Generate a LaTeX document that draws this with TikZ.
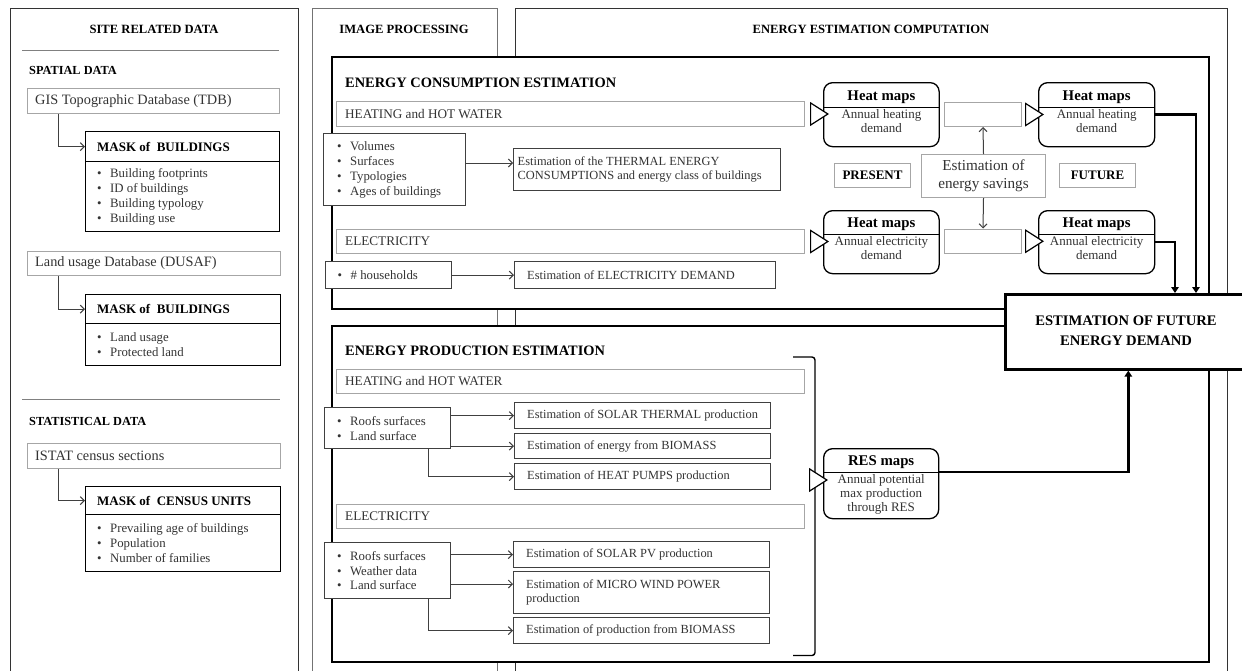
\documentclass[tikz,border=0pt]{standalone}
\usepackage{fontspec}
\setmainfont{Liberation Serif}
\usetikzlibrary{arrows.meta}
\newcommand\mkbox[6][]{%
 \pgfmathsetmacro\mkW{#5-#3}\pgfmathsetmacro\mkH{#6-#4}%
 \node[#1, anchor=north west, minimum width=\mkW pt, minimum height=\mkH pt, inner sep=0pt] (#2) at (#3,#4) {};}
\newcommand\mktext[4]{\node[#2, anchor=west, inner sep=0pt] (#1T) at ([xshift=#3pt]#1.west) {#4};}
\newcommand\mybul{\textbullet\hspace{8.5pt}}
\tikzset{
 panel/.style={draw=black!80, line width=1.1pt, fill=white},
 ipanel/.style={draw=black!55, line width=1.3pt, fill=white},
 ptitle/.style={font=\bfseries\fontsize{12.6}{15}\selectfont, inner sep=0pt},
 sect/.style={font=\bfseries\fontsize{12.3}{15}\selectfont, anchor=west, inner sep=0pt},
 graybox/.style={draw=black!35, line width=1pt, fill=white},
 maskbox/.style={draw=black, line width=1.3pt, fill=white},
 inbox/.style={draw=black!75, line width=1.2pt, fill=white},
 bigbox/.style={draw=black, line width=2pt, fill=white},
 hmbox/.style={draw=black, line width=1.3pt, rounded corners=9pt, fill=white},
 futbox/.style={draw=black, line width=2.6pt, fill=white},
 tgray/.style={align=left, text=black!80, font=\fontsize{14.3}{17}\selectfont},
 tbar/.style={align=left, text=black!80, font=\fontsize{13.2}{16}\selectfont},
 tmaskh/.style={align=left, font=\bfseries\fontsize{13}{16}\selectfont},
 tlist/.style={align=left, text=black!80, font=\fontsize{12.8}{14.9}\selectfont},
 test/.style={align=left, text=black!80, font=\fontsize{12.4}{14.6}\selectfont},
 btitle/.style={font=\bfseries\fontsize{14.4}{17}\selectfont, anchor=west, inner sep=0pt},
 hmt/.style={font=\bfseries\fontsize{14.8}{17}\selectfont, inner sep=0pt},
 hmb/.style={font=\fontsize{13}{14.2}\selectfont, align=center, inner sep=0pt, text=black!80},
 hmdiv/.style={draw=black, line width=1pt},
 tlab/.style={font=\bfseries\fontsize{13}{16}\selectfont, inner sep=0pt},
 tsav/.style={font=\fontsize{15.2}{17.7}\selectfont, align=center, inner sep=0pt, text=black!80},
 tfut/.style={font=\bfseries\fontsize{14.6}{20}\selectfont, align=center, inner sep=0pt},
 thinarr/.style={draw=black!75, line width=1pt, -{Straight Barb[length=4pt,width=8pt]}},
 thickarr/.style={draw=black, line width=2.5pt, -{Triangle[length=6pt,width=7.5pt]}},
 opentri/.style={draw=black, line width=1.2pt, -{Triangle[fill=white,length=19pt,width=24pt]}},
 sepline/.style={draw=black!50, line width=1pt},
 brack/.style={draw=black, line width=1.4pt, rounded corners=3pt},
}
\begin{document}
\begin{tikzpicture}[x=1pt,y=-1pt]
\useasboundingbox (0,0) rectangle (1242,670);
\clip (0,0) rectangle (1242,670);
% ---------- panels
\mkbox[panel]{site}{10}{8}{298}{700}
\mkbox[ipanel]{imgp}{312}{8}{497}{700}
\mkbox[panel]{energy}{515}{8}{1227}{700}
\node[ptitle] (siteT) at (154,29) {SITE RELATED DATA};
\node[ptitle] (imgpT) at (404,29) {IMAGE PROCESSING};
\node[ptitle] (energyT) at (871,29) {ENERGY ESTIMATION COMPUTATION};
% ---------- site related data
\draw[sepline] (22,50) -- (279,50);
\node[sect] (spatT) at (29,70) {SPATIAL DATA};
\mkbox[graybox]{gis}{27}{88}{279}{113}
\mktext{gis}{tgray}{8}{GIS Topographic Database (TDB)}
\mkbox[maskbox]{maskAh}{85}{131}{279}{161}
\mktext{maskAh}{tmaskh}{12}{MASK of\ \ BUILDINGS}
\mkbox[maskbox]{maskAb}{85}{161}{279}{231}
\mktext{maskAb}{tlist}{12}{\mybul Building footprints\\\mybul ID of buildings\\\mybul Building typology\\\mybul Building use}
\draw[thinarr] (gis.south -| 58,0) |- (maskAh.west);

\mkbox[graybox]{land}{27}{251}{280}{275}
\mktext{land}{tgray}{8}{Land usage Database (DUSAF)}
\mkbox[maskbox]{maskBh}{85}{294}{280}{323}
\mktext{maskBh}{tmaskh}{12}{MASK of\ \ BUILDINGS}
\mkbox[maskbox]{maskBb}{85}{323}{280}{365}
\mktext{maskBb}{tlist}{12}{\mybul Land usage\\\mybul Protected land}
\draw[thinarr] (land.south -| 58,0) |- (maskBh.west);

\draw[sepline] (22,399) -- (280,399);
\node[sect] (statT) at (29,421) {STATISTICAL DATA};
\mkbox[graybox]{istat}{27}{443}{280}{468}
\mktext{istat}{tgray}{8}{ISTAT census sections}
\mkbox[maskbox]{maskCh}{85}{486}{280}{514}
\mktext{maskCh}{tmaskh}{12}{MASK of\ \ CENSUS UNITS}
\mkbox[maskbox]{maskCb}{85}{514}{280}{571}
\mktext{maskCb}{tlist}{12}{\mybul Prevailing age of buildings\\\mybul Population\\\mybul Number of families}
\draw[thinarr] (istat.south -| 58,0) |- (maskCh.west);

% ---------- consumption
\mkbox[bigbox]{cons}{331}{56}{1208}{308}
\mkbox[bigbox]{prod}{331}{325}{1208}{661}
\node[btitle] (consT) at (345,83) {ENERGY CONSUMPTION ESTIMATION};
\mkbox[graybox]{barCH}{336}{101}{804}{126}
\mktext{barCH}{tbar}{9}{HEATING and HOT WATER}
\mkbox[inbox]{vol}{323}{133}{465}{205}
\mktext{vol}{tlist}{14}{\mybul Volumes\\\mybul Surfaces\\\mybul Typologies\\\mybul Ages of buildings}
\mkbox[inbox]{therm}{513}{148}{780}{190}
\mktext{therm}{test}{4.5}{Estimation of the THERMAL ENERGY\\CONSUMPTIONS and energy class of buildings}
\draw[thinarr] (vol.east |- 0,163) -- (therm.west |- 0,163);
\mkbox[graybox]{barCE}{336}{229}{804}{253}
\mktext{barCE}{tbar}{9}{ELECTRICITY}
\mkbox[inbox]{hh}{325}{261}{451}{288}
\mktext{hh}{tlist}{12.5}{\mybul\# households}
\mkbox[inbox]{edem}{514}{261}{775}{288}
\mktext{edem}{test}{13}{Estimation of ELECTRICITY DEMAND}
\draw[thinarr] (hh) -- (edem);

% heat maps
\mkbox[hmbox]{hmA}{823}{82}{938.5}{146}
\draw[hmdiv] (hmA.west |- 0,107) -- (hmA.east |- 0,107);
\node[hmt] (hmAt) at (hmA.center |- 0,97) {Heat maps};
\node[hmb] (hmAb) at (hmA.center |- 0,121) {Annual heating\\demand};
\mkbox[hmbox]{hmB}{1038}{82}{1154}{146}
\draw[hmdiv] (hmB.west |- 0,107) -- (hmB.east |- 0,107);
\node[hmt] (hmBt) at (hmB.center |- 0,97) {Heat maps};
\node[hmb] (hmBb) at (hmB.center |- 0,121) {Annual heating\\demand};
\mkbox[hmbox]{hmC}{823}{210}{938.5}{273}
\draw[hmdiv] (hmC.west |- 0,234) -- (hmC.east |- 0,234);
\node[hmt] (hmCt) at (hmC.center |- 0,224.5) {Heat maps};
\node[hmb] (hmCb) at (hmC.center |- 0,248) {Annual electricity\\demand};
\mkbox[hmbox]{hmD}{1038}{210}{1154}{273}
\draw[hmdiv] (hmD.west |- 0,234) -- (hmD.east |- 0,234);
\node[hmt] (hmDt) at (hmD.center |- 0,224.5) {Heat maps};
\node[hmb] (hmDb) at (hmD.center |- 0,248) {Annual electricity\\demand};

\mkbox[graybox]{empA}{944}{102}{1021}{126}
\mkbox[graybox]{empB}{944}{228.5}{1021}{253}
\mkbox[graybox]{pres}{834}{163}{910}{187}
\node[tlab] (presT) at (pres.center) {PRESENT};
\mkbox[graybox]{futl}{1059}{163}{1135}{187}
\node[tlab] (futlT) at (futl.center) {FUTURE};
\mkbox[graybox]{sav}{921}{154}{1045}{197}
\node[tsav] (savT) at (sav.center) {Estimation of\\energy savings};
\draw[thinarr] (sav.north) -- (empA.south);
\draw[thinarr] (sav.south) -- (empB.north);

\draw[opentri, shorten <=6pt, shorten >=-6pt] (barCH.east) -- (barCH.east -| hmA.west);
\draw[opentri, shorten <=4pt, shorten >=-6pt] (empA.east) -- (empA.east -| hmB.west);
\draw[opentri, shorten <=6pt, shorten >=-6pt] (barCE.east) -- (barCE.east -| hmC.west);
\draw[opentri, shorten <=4pt, shorten >=-6pt] (empB.east) -- (empB.east -| hmD.west);

% ---------- production
\node[btitle] (prodT) at (345,351) {ENERGY PRODUCTION ESTIMATION};
\mkbox[graybox]{barPH}{336}{369}{804}{393}
\mktext{barPH}{tbar}{9}{HEATING and HOT WATER}
\mkbox[inbox]{roofA}{324}{407}{450}{448}
\mktext{roofA}{tlist}{13}{\mybul Roofs surfaces\\\mybul Land surface}
\mkbox[inbox]{sth}{514}{402}{770}{428}
\mktext{sth}{test}{13}{Estimation of SOLAR THERMAL production}
\mkbox[inbox]{bio}{514}{433}{770}{458}
\mktext{bio}{test}{13}{Estimation of energy from BIOMASS}
\mkbox[inbox]{hp}{514}{463}{770}{489}
\mktext{hp}{test}{13}{Estimation of HEAT PUMPS production}
\draw[thinarr] (roofA.east |- sth.west) -- (sth.west);
\draw[thinarr] (roofA.east |- bio.west) -- (bio.west);
\draw[thinarr] (roofA.south -| 428,0) |- (hp.west);

\mkbox[graybox]{barPE}{336}{504}{804}{528}
\mktext{barPE}{tbar}{9}{ELECTRICITY}
\mkbox[inbox]{roofB}{324}{542}{450}{598}
\mktext{roofB}{tlist}{13}{\mybul Roofs surfaces\\\mybul Weather data\\\mybul Land surface}
\mkbox[inbox]{pv}{513}{541}{769}{567}
\mktext{pv}{test}{13}{Estimation of SOLAR PV production}
\mkbox[inbox]{wind}{513}{571}{769}{613}
\mktext{wind}{test}{13}{Estimation of MICRO WIND POWER\\production}
\mkbox[inbox]{bioB}{513}{617}{769}{643}
\mktext{bioB}{test}{13}{Estimation of production from BIOMASS}
\draw[thinarr] (roofB.east |- pv.west) -- (pv.west);
\draw[thinarr] (roofB.east |- 0,584) -- (wind.west |- 0,584);
\draw[thinarr] (roofB.south -| 428,0) |- (bioB.west);

% bracket and RES maps
\draw[brack] (793,357) -- (815,357) -- (815,655.5) -- (793,655.5);
\coordinate (brkM) at (815,480);
\mkbox[hmbox]{res}{823}{448}{938}{518}
\draw[hmdiv] (res.west |- 0,472) -- (res.east |- 0,472);
\node[hmt] (rest) at (res.center |- 0,462) {RES maps};
\node[hmb] (resb) at (res.center |- 0,494.5) {Annual potential\\max production\\through RES};
\draw[opentri, shorten <=-5pt, shorten >=-5pt] (brkM) -- (brkM -| res.west);

% ---------- future energy demand
\mkbox[futbox]{fut}{1004}{293}{1250}{368}
\node[tfut] (futT) at (1126,331) {ESTIMATION OF FUTURE\\ENERGY DEMAND};
\draw[thickarr] (hmB.east) -| (1196,0 |- fut.north);
\draw[thickarr] (hmD.east) -| (1175,0 |- fut.north);
\draw[thickarr] (res.east |- 0,472) -| (fut.south);
\end{tikzpicture}
\end{document}
